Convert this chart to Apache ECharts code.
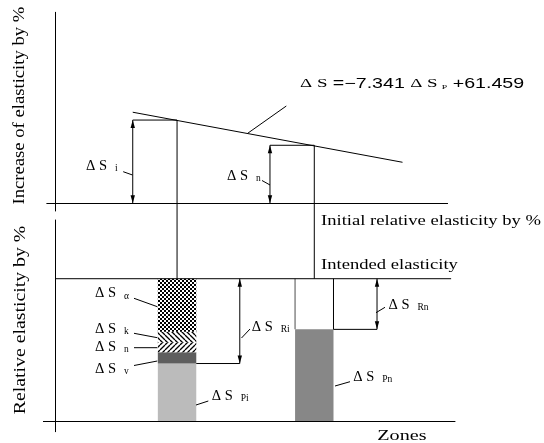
<!DOCTYPE html>
<html><head><meta charset="utf-8">
<script src="https://cdn.jsdelivr.net/npm/echarts@6/dist/echarts.min.js"></script>
<style>html,body{margin:0;padding:0;background:#fff}#c{width:544px;height:443px}</style>
</head><body><div id="c"></div>
<script>
// ---------------- data ----------------
const zones = ['i', 'n'];                       // zones
const zoneX = [31.0, 66.0];                     // zone positions on the horizontal axis
const increase = [43.6, 30.4];                  // ΔS_i , ΔS_n  (increase of elasticity)
const trendX = [19.7, 88.5];                    // ΔS = −7.341 ΔS_P + 61.459 (schematic line)
const trendY = [47.7, 21.5];
const intended = 100;                           // intended elasticity level
const segKeys = ['Pi', 'v', 'n', 'k', 'α'];     // stacked parts of zone i (bottom → top)
const zoneISeg = [40.4, 7.9, 6.7, 7.7, 37.3];
const zoneNSeg = [64.4];                        // ΔS_Pn
// ---------------------------------------

const SERIF = '"Liberation Serif","Times New Roman",serif';
const SANS = '"Liberation Sans",Arial,sans-serif';
const BAR_W = 9.8, BOX_W = 11.3, R_OFF = 16.0, INTENDED_END = 100.9;

function pattern(kind) {
  const c = document.createElement('canvas');
  const g = c.getContext('2d');
  if (kind === 'cross') {
    c.width = 4; c.height = 4;
    g.fillStyle = '#fff'; g.fillRect(0, 0, 4, 4);
    g.fillStyle = '#000'; g.fillRect(2, 0, 2, 2); g.fillRect(0, 2, 2, 2);
  } else {
    c.width = 5; c.height = 5;
    g.fillStyle = '#fff'; g.fillRect(0, 0, 5, 5);
    g.strokeStyle = '#000'; g.lineWidth = 1.3; g.beginPath();
    for (let k = -1; k <= 1; k++) {
      if (kind === 'back') { g.moveTo(k * 5, 0); g.lineTo(k * 5 + 5, 5); }
      else { g.moveTo(k * 5, 5); g.lineTo(k * 5 + 5, 0); }
    }
    g.stroke();
  }
  return { image: c, repeat: 'repeat' };
}
const fills = {
  'Pi': '#bbbbbb', 'v': '#5e5e5e', 'n': pattern('fwd'), 'k': pattern('back'),
  'α': pattern('cross'), 'Pn': '#878787'
};
const fillKeys = Object.keys(fills);

// stacked rows [x, y0, y1, fillIndex]
const stackRows = [];
function addStack(x, vals, keys) {
  let acc = 0;
  vals.forEach((v, j) => { stackRows.push([x, acc, acc + v, fillKeys.indexOf(keys[j])]); acc += v; });
  return acc;
}
const topI = addStack(zoneX[0], zoneISeg, segKeys);
const topN = addStack(zoneX[1], zoneNSeg, ['Pn']);
const residRows = [[zoneX[0], zoneISeg[0], topI], [zoneX[1], zoneNSeg[0], topN]];

function dArrow(p, q) {
  const L = 8, H = 2.2;
  return [
    { type: 'line', shape: { x1: p[0], y1: p[1], x2: q[0], y2: q[1] }, style: { stroke: '#000', lineWidth: 1 } },
    { type: 'polygon', shape: { points: [[q[0], q[1]], [q[0] - H, q[1] + L], [q[0] + H, q[1] + L]] }, style: { fill: '#000' } },
    { type: 'polygon', shape: { points: [[p[0], p[1]], [p[0] - H, p[1] - L], [p[0] + H, p[1] - L]] }, style: { fill: '#000' } }
  ];
}

const axisBase = { axisTick: { show: false }, axisLabel: { show: false }, splitLine: { show: false } };
const chart = echarts.init(document.getElementById('c'), null, { renderer: 'canvas' });
chart.setOption({
  animation: false,
  backgroundColor: '#fff',
  grid: [
    { left: 46.8, right: 96.4, top: 12.3, height: 198.7, outerBoundsMode: 'none' },
    { left: 43.4, right: 89, top: 220, height: 211.7, outerBoundsMode: 'none' }
  ],
  xAxis: [
    Object.assign({ type: 'value', gridIndex: 0, min: -2.22, max: 100, axisLine: { show: true, onZero: true, lineStyle: { color: '#000', width: 1 } } }, axisBase),
    Object.assign({ type: 'value', gridIndex: 1, min: -3.09, max: 101.89, axisLine: { show: true, onZero: true, lineStyle: { color: '#000', width: 1 } } }, axisBase)
  ],
  yAxis: [
    Object.assign({ type: 'value', gridIndex: 0, min: -4, max: 100, axisLine: { show: true, onZero: true, lineStyle: { color: '#000', width: 1 } } }, axisBase),
    Object.assign({ type: 'value', gridIndex: 1, min: -7.5, max: 141.25, axisLine: { show: true, onZero: true, lineStyle: { color: '#000', width: 1 } } }, axisBase)
  ],
  series: [
    { type: 'line', xAxisIndex: 0, yAxisIndex: 0, silent: true, symbol: 'none',
      data: trendX.map((x, i) => [x, trendY[i]]), lineStyle: { color: '#000', width: 1 } },
    { type: 'custom', xAxisIndex: 0, yAxisIndex: 0, silent: true,
      data: zoneX.map((x, i) => [x, increase[i]]),
      renderItem(params, api) {
        const x = api.value(0), s = api.value(1), ax = x - BOX_W;
        const pt = api.coord([ax, s]), pb = api.coord([ax, 0]), pz = api.coord([x, s]);
        return { type: 'group', children: [
          { type: 'line', shape: { x1: pt[0], y1: pt[1], x2: pz[0], y2: pz[1] }, style: { stroke: '#000', lineWidth: 1 } }
        ].concat(dArrow(pb, pt)) };
      } },
    { type: 'custom', xAxisIndex: 1, yAxisIndex: 1, silent: true, data: stackRows,
      renderItem(params, api) {
        const x = api.value(0);
        const p0 = api.coord([x, api.value(1)]), p1 = api.coord([x, api.value(2)]);
        const w = api.size([BAR_W, 0])[0];
        return { type: 'rect', shape: { x: p0[0] - w / 2, y: p1[1], width: w, height: p0[1] - p1[1] },
          style: { fill: fills[fillKeys[api.value(3)]] } };
      } },
    { type: 'line', xAxisIndex: 1, yAxisIndex: 1, silent: true, symbol: 'none',
      data: [[0, intended], [INTENDED_END, intended]], lineStyle: { color: '#000', width: 1 } },
    { type: 'custom', xAxisIndex: 1, yAxisIndex: 1, silent: true, data: residRows,
      renderItem(params, api) {
        const x = api.value(0), p = api.value(1), top = api.value(2);
        const w = api.size([BAR_W, 0])[0];
        const pe = api.coord([x, p]), pa = api.coord([x + R_OFF, p]), pi = api.coord([x + R_OFF, intended]);
        const ch = [{ type: 'line', shape: { x1: pe[0] + w / 2, y1: pe[1], x2: pa[0], y2: pa[1] }, style: { stroke: '#000', lineWidth: 1 } }]
          .concat(dArrow(pa, pi));
        if (top < intended - 0.01) {
          const a = api.coord([x, top]), b = api.coord([x, intended]);
          ch.push({ type: 'line', shape: { x1: a[0] - w / 2, y1: a[1], x2: b[0] - w / 2, y2: b[1] }, style: { stroke: '#888', lineWidth: 1.5 } });
          ch.push({ type: 'line', shape: { x1: a[0] + w / 2, y1: a[1], x2: b[0] + w / 2, y2: b[1] }, style: { stroke: '#000', lineWidth: 1 } });
        }
        return { type: 'group', children: ch };
      } }
  ]
});

// ---------- annotations ----------
const G = [];
zoneX.forEach((x, k) => {
  const a = chart.convertToPixel({ gridIndex: 0 }, [x, increase[k]]);
  const b = chart.convertToPixel({ gridIndex: 1 }, [x, intended]);
  G.push({ type: 'line', shape: { x1: a[0], y1: a[1], x2: b[0], y2: b[1] }, style: { stroke: '#000', lineWidth: 1 } });
});
function leader(x1, y1, x2, y2) {
  G.push({ type: 'line', shape: { x1, y1, x2, y2 }, style: { stroke: '#000', lineWidth: 1 } });
}
function txt(x, y, text, size, opts) {
  G.push(Object.assign({ type: 'text', x, y, style: {
    text, fontFamily: SERIF, fontSize: size, fill: '#000',
    align: 'left', verticalAlign: 'middle', textAlign: 'left', textVerticalAlign: 'middle' } }, opts || {}));
}
function dsLabel(x, y, sub) {
  G.push({ type: 'text', x, y, style: {
    text: '{m|Δ S}{s|' + sub + '}', align: 'left', verticalAlign: 'middle', textAlign: 'left', textVerticalAlign: 'middle',
    rich: {
      m: { fontFamily: SERIF, fontSize: 14.5, fill: '#000', lineHeight: 16 },
      s: { fontFamily: SERIF, fontSize: 9.5, fill: '#000', padding: [5, 0, 0, 8] }
    } } });
}
// axis titles
G.push({ type: 'text', x: 20, y: 105.6, rotation: Math.PI / 2, scaleX: 1.13,
  style: { text: 'Increase of elasticity by %', fontFamily: SERIF, fontSize: 16.5, fill: '#000', align: 'center', verticalAlign: 'middle', textAlign: 'center', textVerticalAlign: 'middle' } });
G.push({ type: 'text', x: 20.5, y: 320, rotation: Math.PI / 2, scaleX: 1.2,
  style: { text: 'Relative elasticity by %', fontFamily: SERIF, fontSize: 16.5, fill: '#000', align: 'center', verticalAlign: 'middle', textAlign: 'center', textVerticalAlign: 'middle' } });
txt(321, 221.5, 'Initial relative elasticity by %', 15, { scaleX: 1.24 });
txt(321, 265, 'Intended elasticity', 15, { scaleX: 1.24 });
txt(377.3, 435.5, 'Zones', 15.5, { scaleX: 1.3 });
// equation
G.push({ type: 'text', x: 300, y: 83.7, scaleX: 1.4, style: {
  text: '{d|Δ S}{n| =−7.341 }{d|Δ S}{p|P}{n| +61.459}', align: 'left', verticalAlign: 'middle', textAlign: 'left', textVerticalAlign: 'middle',
  rich: {
    d: { fontFamily: SERIF, fontSize: 13.5, fill: '#000', lineHeight: 16 },
    n: { fontFamily: SANS, fontSize: 14, fill: '#000', lineHeight: 16 },
    p: { fontFamily: SERIF, fontSize: 7, fill: '#000', padding: [6, 0, 0, 3] }
  } } });
leader(286.3, 106, 247.4, 133.5);
// Δ labels
dsLabel(86, 166, 'i');   leader(123.2, 171.7, 132.5, 175);
dsLabel(227, 176, 'n');  leader(262, 180.5, 270, 185);
dsLabel(95, 293.5, 'α'); leader(134, 298.3, 157.3, 306.7);
dsLabel(95, 329, 'k');   leader(134, 333.3, 157.3, 337.7);
dsLabel(95, 347, 'n');   leader(134, 347.7, 157.3, 347.7);
dsLabel(95, 369, 'v');   leader(134, 365.5, 157.3, 361);
dsLabel(251.7, 326.7, 'Ri'); leader(241.5, 338, 250, 329);
dsLabel(388.5, 305, 'Rn');   leader(376, 312.7, 385, 307.3);
dsLabel(353.3, 376.7, 'Pn'); leader(335, 386, 350, 381.7);
dsLabel(211.7, 396, 'Pi');   leader(196, 405, 208.3, 401);
chart.setOption({ graphic: G.map(e => Object.assign({ silent: true, z: 100 }, e)) });
</script></body></html>
